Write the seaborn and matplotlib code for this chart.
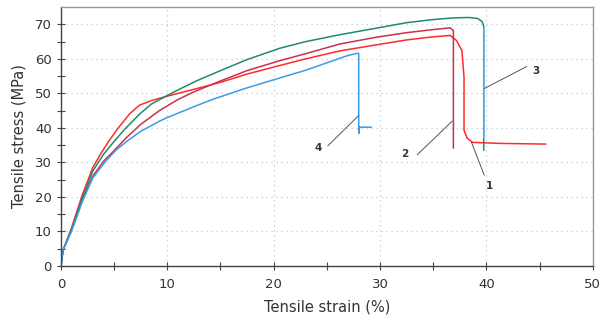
import pandas as pd
import matplotlib.pyplot as plt
import seaborn as sns

# tensile curves
strain_1 = [0, 0.2, 1.0, 2.0, 3.0, 3.7, 4.6, 5.5, 6.5, 7.4, 8.5, 9.3, 10.5, 12.4, 15, 17.5,
            20.6, 23, 26.2, 29.5, 32.5, 35, 36.6, 37.2, 37.7, 37.9, 37.9, 38.2, 38.7, 41.3, 45.6]
stress_1 = [0, 4.5, 11, 20.5, 28.5, 32.3, 36.6, 40.4, 44.2, 46.6, 47.9, 48.6, 49.6, 51.1, 53.2, 55.6,
            58.1, 60, 62.3, 64, 65.5, 66.4, 66.8, 65.3, 62.4, 54.6, 39.3, 37, 35.8, 35.5, 35.3]

strain_2 = [0, 0.2, 1.0, 2.0, 3.0, 4.0, 5.0, 6.2, 7.5, 9.3, 11, 12.4, 15, 17.5,
            20.6, 23, 26.2, 29.5, 32.5, 35, 36.6, 36.9, 36.9]
stress_2 = [0, 4.5, 10.5, 19, 26, 30.3, 33.4, 37.3, 41, 45.1, 48.2, 50.3, 53.6, 56.6,
            59.5, 61.5, 64.3, 66.2, 67.6, 68.5, 69, 68.2, 34.1]

strain_3 = [0, 0.2, 1.0, 2.0, 3.0, 4.0, 4.9, 6.0, 7.4, 8.5, 10, 11.2, 12.8, 15, 17.5,
            20.6, 23, 26.2, 30, 32.5, 35, 37, 38.4, 39.2, 39.6, 39.75, 39.75]
stress_3 = [0, 4.5, 10.5, 19.5, 27.5, 32.3, 35.7, 39.6, 44.0, 46.9, 49.4, 51.3, 53.7, 56.6, 59.8,
            63.1, 65, 67, 69.1, 70.5, 71.4, 71.9, 72, 71.7, 70.8, 69.5, 33.5]

strain_4 = [0, 0.2, 1.0, 2.0, 3.0, 4.2, 5.2, 6.2, 7.5, 9.3, 10, 12.8, 14.3, 17.5,
            20.6, 23, 25.6, 26.9, 27.8, 28.0, 28.0, 28.0, 29.2]
stress_4 = [0, 4.5, 10, 18.5, 25.5, 30.3, 33.6, 36.1, 39, 42, 43, 46.5, 48.3, 51.6,
            54.5, 56.7, 59.5, 60.9, 61.6, 61.6, 38.4, 40.2, 40.2]

# the vertical drop of curve 3 shows up light blue in the scan
drop_3_strain = [39.75, 39.75]
drop_3_stress = [69.0, 37]

curve_names = ['1', '2', '3', '4']
curve_colors = ['#ff2a2a', '#c8324b', '#1f8a6c', '#3d9be3']

# label positions and leader lines
label_xy = {'1': (40.3, 23.2), '2': (32.3, 32.5), '3': (44.7, 56.5), '4': (24.2, 34.3)}
leader_from = {'1': (38.6, 35.8), '2': (36.8, 42), '3': (39.8, 51.4), '4': (28.0, 43.6)}
leader_to = {'1': (39.8, 26.3), '2': (33.5, 32.2), '3': (43.8, 57.8), '4': (25.1, 34.8)}

frames = []
for name, xs, ys in zip(curve_names, [strain_1, strain_2, strain_3, strain_4],
                        [stress_1, stress_2, stress_3, stress_4]):
    frames.append(pd.DataFrame({'strain': xs, 'stress': ys, 'curve': name}))
data = pd.concat(frames, ignore_index=True)

sns.set_theme(style='white')
plt.rcParams['font.family'] = ['DejaVu Sans']

fig = plt.figure(figsize=(6.03, 3.25), dpi=100)
ax = fig.add_axes([0.101, 0.182, 0.882, 0.796])

sns.lineplot(data=data, x='strain', y='stress', hue='curve', units='curve',
             palette=dict(zip(curve_names, curve_colors)), sort=False,
             estimator=None, linewidth=1.1, legend=False, ax=ax)
sns.lineplot(x=drop_3_strain, y=drop_3_stress, sort=False, estimator=None,
             color='#6cb4ec', linewidth=1.1, ax=ax)

for name in curve_names:
    (x0, y0), (x1, y1) = leader_from[name], leader_to[name]
    ax.plot([x0, x1], [y0, y1], color='#555555', linewidth=0.7)
    ax.text(*label_xy[name], name, fontsize=7.5, fontweight='bold', color='#333333',
            ha='center', va='center')

ax.set_xlim(0, 50)
ax.set_ylim(0, 75)
ax.set_xticks(range(0, 51, 10))
ax.set_xticks(range(5, 50, 10), minor=True)
ax.set_yticks(range(0, 71, 10))
ax.set_yticks(range(5, 75, 10), minor=True)
ax.grid(True, which='major', color='#b9cbe0', linestyle=(0, (1, 3)), linewidth=0.9)
ax.tick_params(which='both', direction='inout', length=6, width=0.8, color='#444444',
               labelsize=9.5, labelcolor='#333333', bottom=True, left=True)
ax.tick_params(axis='x', pad=6)

for side in ['left', 'bottom']:
    ax.spines[side].set_color('#444444')
    ax.spines[side].set_linewidth(1.0)
for side in ['top', 'right']:
    ax.spines[side].set_color('#999999')
    ax.spines[side].set_linewidth(1.0)

ax.set_xlabel('Tensile strain (%)', fontsize=10.5, color='#333333', labelpad=6)
ax.set_ylabel('Tensile stress (MPa)', fontsize=10.5, color='#333333', labelpad=6)

plt.savefig('out.png', dpi=100)
